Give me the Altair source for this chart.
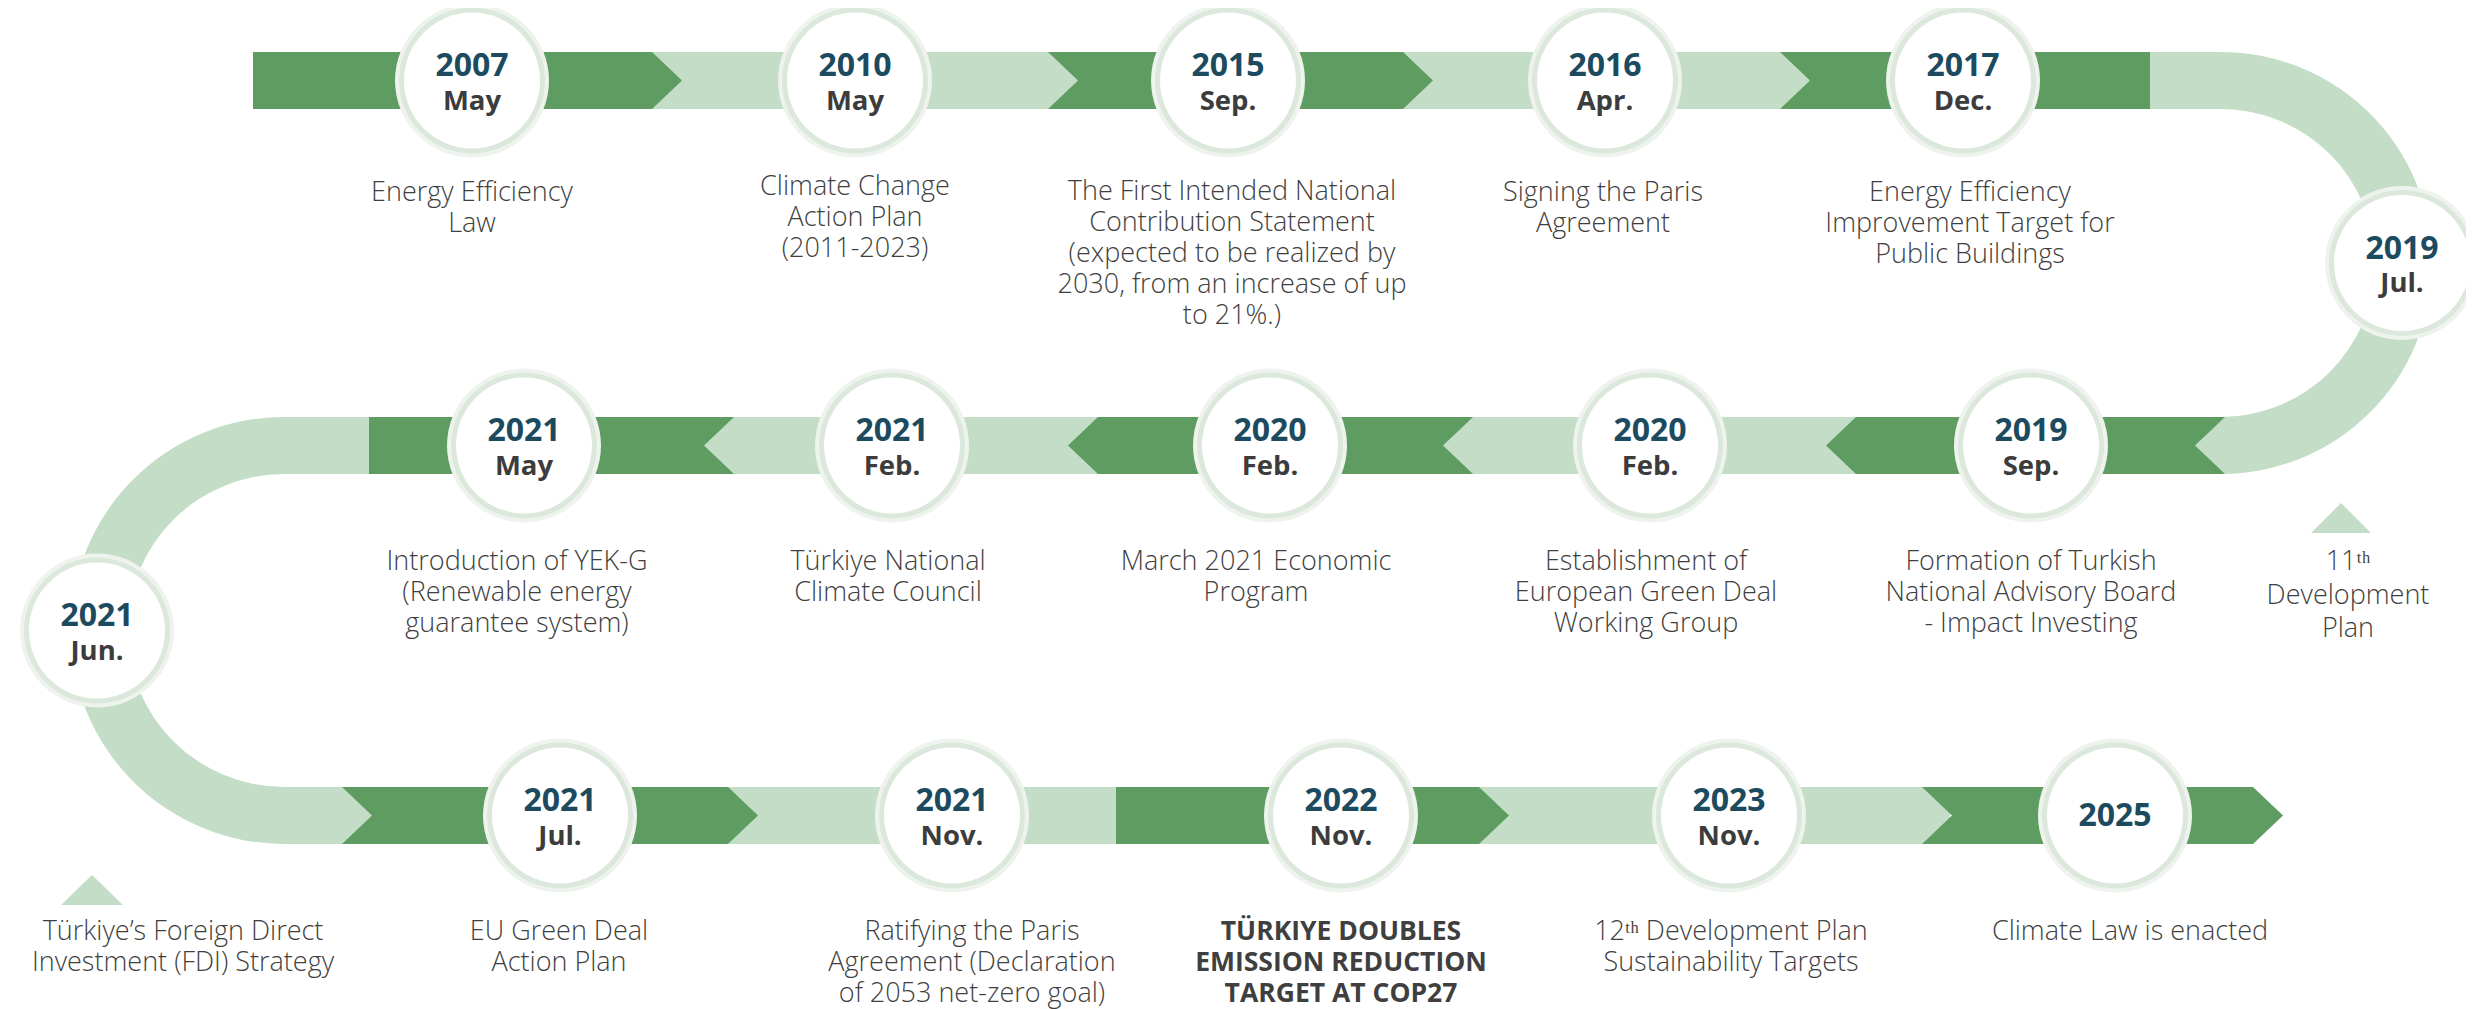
import altair as alt
import pandas as pd

# ---------------- data ----------------
years = ["2007", "2010", "2015", "2016", "2017", "2019", "2019", "2020", "2020",
         "2021", "2021", "2021", "2021", "2021", "2022", "2023", "2025"]
months = ["May", "May", "Sep.", "Apr.", "Dec.", "Jul.", "Sep.", "Feb.", "Feb.",
          "Feb.", "May", "Jun.", "Jul.", "Nov.", "Nov.", "Nov.", ""]
descriptions = [
    "Energy Efficiency\nLaw",
    "Climate Change\nAction Plan\n(2011-2023)",
    "The First Intended National\nContribution Statement\n(expected to be realized by\n2030, from an increase of up\nto 21%.)",
    "Signing the Paris\nAgreement",
    "Energy Efficiency\nImprovement Target for\nPublic Buildings",
    "",
    "Formation of Turkish\nNational Advisory Board\n- Impact Investing",
    "Establishment of\nEuropean Green Deal\nWorking Group",
    "March 2021 Economic\nProgram",
    "Türkiye National\nClimate Council",
    "Introduction of YEK-G\n(Renewable energy\nguarantee system)",
    "",
    "EU Green Deal\nAction Plan",
    "Ratifying the Paris\nAgreement (Declaration\nof 2053 net-zero goal)",
    "TÜRKIYE DOUBLES\nEMISSION REDUCTION\nTARGET AT COP27",
    "12ᵗʰ Development Plan\nSustainability Targets",
    "Climate Law is enacted",
]
highlighted = [False] * 14 + [True, False, False]
side_notes = ["11ᵗʰ\nDevelopment\nPlan", "Türkiye’s Foreign Direct\nInvestment (FDI) Strategy"]

# ---------------- layout (design geometry) ----------------
DARK = "#5f9c62"
LIGHT = "#c4ddc7"
RING = "#dbe8db"
GLOW = "#eef3ee"
YEAR_C = "#1c4a5e"
MONTH_C = "#3c3c3c"
TEXT_C = "#3f3f3f"
FONT = "Open Sans"

R1, R2, R3 = 80.5, 445.5, 815.5
HB = 28.5  # half band thickness
circle_xy = [(472, R1), (855, R1), (1228, R1), (1605, R1), (1963, R1),
             (2402, 263), (2031, R2), (1650, R2), (1270, R2), (892, R2), (524, R2),
             (97, 630.5), (560, R3), (952, R3), (1341, R3), (1729, R3), (2115, R3)]
desc_x = [472, 855, 1232, 1603, 1970, 0, 2031, 1646, 1256, 888, 517, 0,
          559, 972, 1341, 1731, 2130]
desc_y0 = [193, 187, 192, 193, 193, 0, 562, 562, 562, 562, 562, 0,
           932, 932, 932, 932, 932]
LH = 31

XS = alt.Scale(domain=[8, 2466], nice=False, zero=False)
YS = alt.Scale(domain=[8, 1009], nice=False, zero=False, reverse=True)

# light bands (straight parts)
bands = pd.DataFrame({
    "x1": [600, 284, 284], "x2": [2222, 2222, 1950],
    "y1": [R1 - HB, R2 - HB, R3 - HB], "y2": [R1 + HB, R2 + HB, R3 + HB],
})
band_layer = alt.Chart(bands).mark_rect(color=LIGHT).encode(
    x=alt.X("x1:Q", scale=XS, axis=None), x2="x2:Q",
    y=alt.Y("y1:Q", scale=YS, axis=None), y2="y2:Q")

arc_r = alt.Chart(pd.DataFrame({"x": [2221], "y": [263]})).mark_arc(
    color=LIGHT, radius=211, radius2=154, theta=0, theta2=3.14159265
).encode(x=alt.X("x:Q", scale=XS, axis=None), y=alt.Y("y:Q", scale=YS, axis=None))
arc_l = alt.Chart(pd.DataFrame({"x": [284], "y": [630.5]})).mark_arc(
    color=LIGHT, radius=213.5, radius2=156.5, theta=3.14159265, theta2=6.2831853
).encode(x=alt.X("x:Q", scale=XS, axis=None), y=alt.Y("y:Q", scale=YS, axis=None))

# dark chevron pieces as custom symbol paths: (left, right, left offset, right offset, row)
D = 30
S = 100.0  # px per path unit; symbol size = (2*S)^2
pieces = [(253, 652, 0, 1, R1), (1048, 1403, 1, 1, R1), (1780, 2150, 1, 0, R1),
          (369, 734, 0, -1, R2), (1098, 1473, -1, -1, R2), (1856, 2225, -1, -1, R2),
          (342, 728, 1, 1, R3), (1116, 1479, 0, 1, R3), (1922, 2253, 1, 1, R3)]


def fmt(v):
    return f"{v / S:.4f}"


shape_rows = []
for (L, R, lo, ro, yc) in pieces:
    c = (L + R) / 2
    pts = [(L - c, -HB), (R - c, -HB), (R + ro * D - c, 0), (R - c, HB),
           (L - c, HB), (L + lo * D - c, 0)]
    path = "M" + " L".join(f"{fmt(px)},{fmt(py)}" for px, py in pts) + " Z"
    shape_rows.append({"x": c, "y": yc, "path": path, "kind": "dark"})
# small triangles pointing to the side notes: (apex x, apex y, base y, half width)
for (ax, ay, by, hw) in [(2341, 503, 533, 30), (92, 875, 905, 31)]:
    cy = (ay + by) / 2
    pts = [(0, ay - cy), (hw, by - cy), (-hw, by - cy)]
    path = "M" + " L".join(f"{fmt(px)},{fmt(py)}" for px, py in pts) + " Z"
    shape_rows.append({"x": ax, "y": cy, "path": path, "kind": "tri"})
shapes = pd.DataFrame(shape_rows)
poly_layer = alt.Chart(shapes).mark_point(
    filled=True, opacity=1, size=(2 * S) ** 2, strokeWidth=0).encode(
    x=alt.X("x:Q", scale=XS, axis=None),
    y=alt.Y("y:Q", scale=YS, axis=None),
    shape=alt.Shape("path:N", scale=None, legend=None),
    color=alt.Color("kind:N", scale=alt.Scale(domain=["dark", "tri"], range=[DARK, LIGHT]), legend=None),
)

# circles
ev = pd.DataFrame({
    "year": years, "month": months,
    "cx": [c[0] for c in circle_xy], "cy": [c[1] for c in circle_xy],
})
ev["yy"] = [cy - (0 if m == "" else 14.5) for cy, m in zip(ev["cy"], ev["month"])]
ev["my"] = ev["cy"] + 21
enc_c = dict(x=alt.X("cx:Q", scale=XS, axis=None), y=alt.Y("cy:Q", scale=YS, axis=None))
glow = alt.Chart(ev).mark_circle(size=(2 * 77) ** 2, color=GLOW, opacity=1).encode(**enc_c)
ring = alt.Chart(ev).mark_circle(size=(2 * 73) ** 2, color=RING, opacity=1).encode(**enc_c)
white = alt.Chart(ev).mark_circle(size=(2 * 68) ** 2, color="white", opacity=1).encode(**enc_c)

year_t = alt.Chart(ev).mark_text(font=FONT, fontSize=32, fontWeight="bold", color=YEAR_C,
                                 align="center", baseline="middle").encode(
    x=alt.X("cx:Q", scale=XS, axis=None), y=alt.Y("yy:Q", scale=YS, axis=None), text="year:N")
month_t = alt.Chart(ev[ev["month"] != ""]).mark_text(font=FONT, fontSize=27.5, fontWeight="bold",
                                                     color=MONTH_C, align="center", baseline="middle").encode(
    x=alt.X("cx:Q", scale=XS, axis=None), y=alt.Y("my:Q", scale=YS, axis=None), text="month:N")

# description lines
lines = []
for i, d in enumerate(descriptions):
    if not d:
        continue
    for k, ln in enumerate(d.split("\n")):
        lines.append({"x": desc_x[i], "y": desc_y0[i] + k * LH, "t": ln, "b": highlighted[i]})
for note, (nx, ny0, lh) in zip(side_notes, [(2348, 562, 33.5), (183, 932, 31)]):
    for k, ln in enumerate(note.split("\n")):
        lines.append({"x": nx, "y": ny0 + k * lh, "t": ln, "b": False})
lines = pd.DataFrame(lines)
desc_norm = alt.Chart(lines[~lines["b"]]).mark_text(
    font=FONT, fontSize=27, fontWeight=300, color=TEXT_C, align="center", baseline="middle").encode(
    x=alt.X("x:Q", scale=XS, axis=None), y=alt.Y("y:Q", scale=YS, axis=None), text="t:N")
desc_bold = alt.Chart(lines[lines["b"]]).mark_text(
    font=FONT, fontSize=26.5, fontWeight="bold", color=TEXT_C, align="center", baseline="middle").encode(
    x=alt.X("x:Q", scale=XS, axis=None), y=alt.Y("y:Q", scale=YS, axis=None), text="t:N")

chart = alt.layer(band_layer, arc_r, arc_l, poly_layer, glow, ring, white,
                  year_t, month_t, desc_norm, desc_bold).properties(
    width=2458, height=1001, padding=0, autosize=alt.AutoSizeParams(type="none"),
    background="white"
).configure_view(stroke=None)

chart.save("out.html", embed_options={"renderer": "svg", "actions": False})
